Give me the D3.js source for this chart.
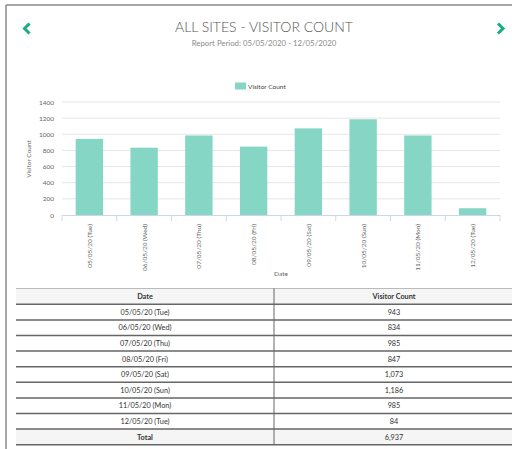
<!DOCTYPE html>
<html>
<head>
<meta charset="utf-8">
<script src="https://cdn.jsdelivr.net/npm/d3@7"></script>
<style>
  body { margin: 0; background: #fff; }
  svg text { font-family: "Lato", "Open Sans", sans-serif; }
</style>
</head>
<body>
<div id="canvas"></div>
<script>
"use strict"

/* chart data */
let dates = ["05/05/20 (Tue)", "06/05/20 (Wed)", "07/05/20 (Thu)", "08/05/20 (Fri)",
             "09/05/20 (Sat)", "10/05/20 (Sun)", "11/05/20 (Mon)", "12/05/20 (Tue)"];
let visitors = [943, 834, 985, 847, 1073, 1186, 985, 84];
let yTicks = [0, 200, 400, 600, 800, 1000, 1200, 1400];
let seriesName = "Visitor Count";
let tableHeaders = ["Date", "Visitor Count"];

let drawing = d3.select("#canvas")
    .append("svg")
    .attr("width", 512)
    .attr("height", 449);

/* outer panel border (top + left only are visible) */
drawing.append("line")
    .attr("x1", 6).attr("y1", 5).attr("x2", 512).attr("y2", 5)
    .attr("stroke", "#8a8a8a").attr("stroke-width", 1.5);
drawing.append("line")
    .attr("x1", 6).attr("y1", 5).attr("x2", 6).attr("y2", 449)
    .attr("stroke", "#8a8a8a").attr("stroke-width", 1.5);

/* nav arrows */
drawing.append("polyline")
    .attr("points", "29.5,23.5 24.5,28.5 29.5,33.5")
    .attr("fill", "none").attr("stroke", "#1aab8a").attr("stroke-width", 3);
drawing.append("polyline")
    .attr("points", "498,23.5 503,28.5 498,33.5")
    .attr("fill", "none").attr("stroke", "#1aab8a").attr("stroke-width", 3);

/* titles */
drawing.append("text")
    .attr("x", 264).attr("y", 32)
    .attr("text-anchor", "middle")
    .attr("font-size", 14)
    .attr("font-weight", 300)
    .attr("fill", "#555")
    .text("ALL SITES - VISITOR COUNT");

drawing.append("text")
    .attr("x", 264).attr("y", 46)
    .attr("text-anchor", "middle")
    .attr("font-size", 7.8)
    .attr("fill", "#8a8a8a")
    .text("Report Period: 05/05/2020 - 12/05/2020");

/* legend */
drawing.append("rect")
    .attr("x", 235).attr("y", 82.5).attr("width", 11).attr("height", 7)
    .attr("fill", "#85d6c5");
drawing.append("text")
    .attr("x", 248).attr("y", 89)
    .attr("font-size", 6.5)
    .attr("fill", "#444")
    .text(seriesName);

/* scales */
let x = d3.scaleBand()
    .domain(dates)
    .range([62, 500])
    .paddingInner(0.5)
    .paddingOuter(0.25);

let y = d3.scaleLinear()
    .domain([0, 1400])
    .range([215, 102]);

/* grid */
drawing.append("g")
    .selectAll("line")
    .data(yTicks.slice(1))
    .join("line")
    .attr("x1", 62).attr("x2", 500)
    .attr("y1", d => y(d)).attr("y2", d => y(d))
    .attr("stroke", "#e6e6e6").attr("stroke-width", 1);

/* y axis labels */
let yAxis = drawing.append("g")
    .attr("transform", "translate(54,0)")
    .call(d3.axisLeft(y).tickValues(yTicks).tickFormat(d3.format("d")).tickSize(0).tickPadding(0));
yAxis.select(".domain").remove();
yAxis.selectAll("text")
    .attr("font-size", 6.5)
    .attr("fill", "#666")
    .attr("font-family", "Lato, sans-serif");

drawing.append("text")
    .attr("transform", "translate(31,159) rotate(-90)")
    .attr("text-anchor", "middle")
    .attr("font-size", 6.5)
    .attr("fill", "#666")
    .text("Visitor Count");

/* bars */
drawing.append("g")
    .selectAll("rect")
    .data(dates)
    .join("rect")
    .attr("x", d => x(d))
    .attr("width", x.bandwidth())
    .attr("y", (d, i) => y(visitors[i]))
    .attr("height", (d, i) => y(0) - y(visitors[i]))
    .attr("fill", "#85d6c5");

/* x axis */
let edges = d3.range(dates.length + 1).map(i => 62 + i * (438 / dates.length));
drawing.append("g")
    .selectAll("line")
    .data(edges)
    .join("line")
    .attr("x1", d => d).attr("x2", d => d)
    .attr("y1", 215).attr("y2", 221)
    .attr("stroke", "#ccd6eb");
drawing.append("line")
    .attr("x1", 62).attr("x2", 500).attr("y1", 215.5).attr("y2", 215.5)
    .attr("stroke", "#ccd6eb");

drawing.append("g")
    .selectAll("text")
    .data(dates)
    .join("text")
    .attr("transform", d => "translate(" + (x(d) + x.bandwidth() / 2 + 2.5) + ",224) rotate(-90)")
    .attr("text-anchor", "end")
    .attr("font-size", 6.5)
    .attr("fill", "#666")
    .text(d => d);

drawing.append("text")
    .attr("x", 281).attr("y", 276)
    .attr("text-anchor", "middle")
    .attr("font-size", 6.5)
    .attr("fill", "#666")
    .text("Date");

/* table */
let tLeft = 16, tMid = 274, tRight = 514;
let rowH = 15.6;
let headTop = 288.5, headBottom = 304.3;
let rows = dates.map((d, i) => [d, d3.format(",")(visitors[i])]);
rows.push(["Total", d3.format(",")(d3.sum(visitors))]);

let table = drawing.append("g");

table.append("rect")
    .attr("x", tLeft).attr("y", headTop)
    .attr("width", tRight - tLeft).attr("height", headBottom - headTop)
    .attr("fill", "#f5f5f5");
table.append("rect")
    .attr("x", tLeft).attr("y", headBottom + rowH * dates.length)
    .attr("width", tRight - tLeft).attr("height", rowH)
    .attr("fill", "#f5f5f5");

table.append("line")
    .attr("x1", tLeft).attr("x2", tRight).attr("y1", headTop).attr("y2", headTop)
    .attr("stroke", "#bbb").attr("stroke-width", 1);

table.selectAll("line.row")
    .data(d3.range(rows.length + 1))
    .join("line")
    .attr("class", "row")
    .attr("x1", tLeft).attr("x2", tRight)
    .attr("y1", i => headBottom + i * rowH).attr("y2", i => headBottom + i * rowH)
    .attr("stroke", "#666").attr("stroke-width", 1.5);

table.append("line")
    .attr("x1", tMid).attr("x2", tMid)
    .attr("y1", headTop).attr("y2", headBottom + rows.length * rowH)
    .attr("stroke", "#666").attr("stroke-width", 1);

table.selectAll("text.head")
    .data(tableHeaders)
    .join("text")
    .attr("class", "head")
    .attr("x", (d, i) => i == 0 ? (tLeft + tMid) / 2 : (tMid + tRight) / 2)
    .attr("y", headTop + 10.5)
    .attr("text-anchor", "middle")
    .attr("font-size", 7.3)
    .attr("font-weight", "bold")
    .attr("fill", "#333")
    .text(d => d);

rows.forEach((r, i) => {
    let last = i == rows.length - 1;
    table.append("text")
        .attr("x", (tLeft + tMid) / 2)
        .attr("y", headBottom + i * rowH + 10.5)
        .attr("text-anchor", "middle")
        .attr("font-size", 7.3)
        .attr("font-weight", last ? "bold" : "normal")
        .attr("fill", "#333")
        .text(r[0]);
    table.append("text")
        .attr("x", (tMid + tRight) / 2)
        .attr("y", headBottom + i * rowH + 10.5)
        .attr("text-anchor", "middle")
        .attr("font-size", 7.3)
        .attr("fill", "#333")
        .text(r[1]);
});
</script>
</body>
</html>
